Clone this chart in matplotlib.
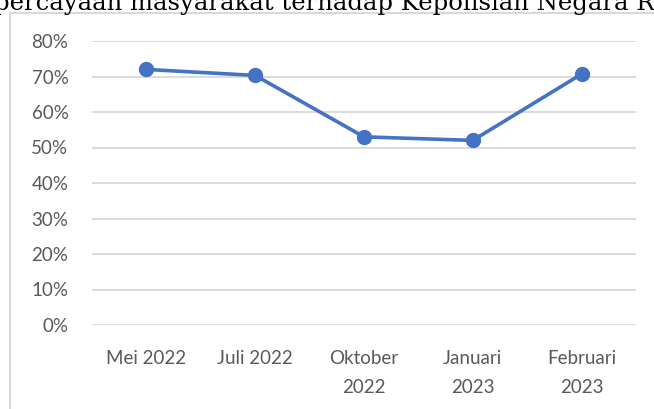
import matplotlib.pyplot as plt
from matplotlib.lines import Line2D
from matplotlib.ticker import PercentFormatter

# Data
bulan = ['Mei 2022', 'Juli 2022', 'Oktober\n2022', 'Januari\n2023', 'Februari\n2023']
kepercayaan = [0.72, 0.703, 0.53, 0.52, 0.707]
judul = 'Tingkat Kepercayaan masyarakat terhadap Kepolisian Negara Republik Indonesia'

W, H = 654, 409
fig = plt.figure(figsize=(W / 100, H / 100), dpi=100)
ax = fig.add_axes([92 / W, 1 - 325 / H, (636 - 92) / W, (325 - 41) / H])

biru = '#4472C4'
x = range(len(bulan))
ax.plot(x, kepercayaan, color=biru, lw=2.6, marker='o', markersize=10,
        solid_capstyle='round', zorder=3)

ax.set_xlim(-0.5, len(bulan) - 0.5)
ax.set_ylim(0, 0.8)
ax.set_yticks([i / 10 for i in range(9)])
ax.yaxis.set_major_formatter(PercentFormatter(1.0, decimals=0))
ax.set_xticks(list(x))
ax.set_xticklabels(bulan, linespacing=1.85)

ax.grid(axis='y', color='#D9D9D9', lw=1.3)
ax.set_axisbelow(True)
for s in ax.spines.values():
    s.set_visible(False)
ax.tick_params(length=0, colors='#595959', labelsize=13.5)
ax.tick_params(axis='y', pad=17)
ax.tick_params(axis='x', pad=18)
for lab in ax.get_xticklabels() + ax.get_yticklabels():
    lab.set_family('Lato')
    lab.set_color('#595959')

# bingkai grafik
fig.add_artist(Line2D([10 / W, 10 / W], [0, 1 - 13 / H], transform=fig.transFigure,
                      color='#D9D9D9', lw=1.5))
fig.add_artist(Line2D([10 / W, 1], [1 - 13 / H, 1 - 13 / H], transform=fig.transFigure,
                      color='#D9D9D9', lw=1.5))

# judul terpotong di atas
t = fig.text(-140 / W, 1 - 10 / H, judul, family='DejaVu Serif', fontsize=17.5,
             va='baseline', ha='left', color='black')

fig.savefig('out.png', dpi=100)
